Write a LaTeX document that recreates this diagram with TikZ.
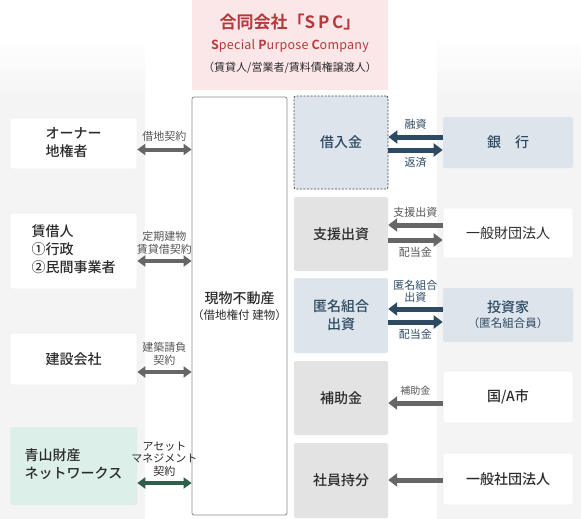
\documentclass[tikz,border=0pt]{standalone}
\usepackage{fontspec}
\setmainfont{Noto Sans CJK JP}[BoldFont={Noto Sans CJK JP Medium}]
\newfontfamily\jpheavy{Noto Sans CJK JP Bold}
\usetikzlibrary{arrows.meta,calc}
\definecolor{panel}{HTML}{F4F4F4}
\definecolor{pinkbg}{HTML}{FCE7E8}
\definecolor{spcred}{HTML}{B5383A}
\definecolor{bluebg}{HTML}{DDE4EC}
\definecolor{greybg}{HTML}{E3E3E3}
\definecolor{greenbg}{HTML}{DCEFE8}
\definecolor{navy}{HTML}{2D4A63}
\definecolor{arrgrey}{HTML}{666666}
\definecolor{arrgreen}{HTML}{2F5F4A}
\definecolor{txt}{HTML}{2B2B2B}
\definecolor{lbl}{HTML}{555555}
\begin{document}
\begin{tikzpicture}[x=1pt,y=-1pt,
  box/.style={rectangle, rounded corners=2pt, inner sep=0pt, align=center,
    font=\fontsize{14}{18}\selectfont\bfseries, text=txt},
  lbox/.style={box, fill=white, minimum width=127, draw=black!6, line width=0.6pt},
  mbox/.style={box, minimum width=94},
  rbox/.style={box, minimum width=130, draw=black!6, line width=0.6pt},
  lbl/.style={font=\fontsize{11}{12.5}\selectfont, text=lbl, align=center, inner sep=0pt},
  dbl/.style={line width=4pt, draw=arrgrey, {Triangle[length=8pt,width=11pt]}-{Triangle[length=8pt,width=11pt]}},
  rarr/.style={line width=5pt, -{Triangle[length=9pt,width=13pt]}}
]
\useasboundingbox (0,0) rectangle (581,519);
% panels
\shade[top color=white, bottom color=panel] (0,35) rectangle (145,100);
\fill[panel] (0,100) rectangle (145,519);
\shade[top color=white, bottom color=panel] (437,35) rectangle (581,100);
\fill[panel] (437,100) rectangle (581,519);

% SPC
\node[box, fill=pinkbg, minimum width=196, minimum height=90, rounded corners=0pt] (spc) at (290,45) {};
\node[inner sep=0pt, text=spcred, font=\fontsize{17}{20}\selectfont\jpheavy] (spct) at (290,22) {合同会社「S\,P\,C」};
\node[inner sep=0pt, text=spcred, font=\fontsize{12.5}{15}\selectfont\addfontfeatures{LetterSpace=2}] (spce) at (290,46) {{\jpheavy\addfontfeatures{LetterSpace=2}S}pecial {\jpheavy\addfontfeatures{LetterSpace=2}P}urpose {\jpheavy\addfontfeatures{LetterSpace=2}C}ompany};
\node[inner sep=0pt, text=txt, font=\fontsize{11}{13}\selectfont] (spcj) at (290,68) {（賃貸人/営業者/賃料債権譲渡人）};

% center
\node[box, draw=black!45, line width=0.8pt, fill=white, minimum width=95, minimum height=418] (gen) at (239.5,306)
  {現物不動産\\[-2pt]{\fontsize{11.5}{14}\selectfont\mdseries （借地権付 建物）}};

% left
\node[lbox, minimum height=51] (owner) at (73.5,143.5) {\begin{tabular}{@{}l@{}}オーナー\\地権者\end{tabular}};
\node[lbox, minimum height=76] (lessee) at (73.5,251) {\begin{tabular}{@{}l@{}}賃借人\\①行政\\②民間事業者\end{tabular}};
\node[lbox, minimum height=52] (builder) at (73.5,359) {建設会社};
\node[lbox, fill=greenbg, draw=none, minimum height=78] (aoyama) at (73.5,466) {\begin{tabular}{@{}l@{}}青山財産\\ネットワークス\end{tabular}};

% middle column
\node[mbox, fill=bluebg, draw=black!70, dashed, dash pattern=on 2pt off 1.5pt, line width=0.8pt, minimum height=93, text=navy] (kari) at (341,142.5) {借入金};
\node[mbox, fill=greybg, minimum height=74] (shien) at (341,234) {支援出資};
\node[mbox, fill=bluebg, minimum height=75, text=navy] (tokumei) at (341,315.5) {匿名組合\\出資};
\node[mbox, fill=greybg, minimum height=74] (hojo) at (341,398) {補助金};
\node[mbox, fill=greybg, minimum height=75] (shain) at (341,480.5) {社員持分};

% right
\node[rbox, fill=bluebg, draw=none, minimum height=51, text=navy] (bank) at (508,142.5) {銀　行};
\node[rbox, fill=white, minimum height=50, font=\fontsize{14}{18}\selectfont] (zaidan) at (508,233) {一般財団法人};
\node[rbox, fill=bluebg, draw=none, minimum height=54, text=navy] (inv) at (508,315) {投資家\\[-3pt]{\fontsize{11.5}{14}\selectfont\mdseries （匿名組合員）}};
\node[rbox, fill=white, minimum height=52] (kuni) at (508,397) {国/A市};
\node[rbox, fill=white, minimum height=52] (shadan) at (508,479) {一般社団法人};

% left arrows
\draw[dbl] ([yshift=-6pt]owner.east) -- node[lbl, above=6pt] {借地契約} ([yshift=-6pt]owner.east -| gen.west);
\draw[dbl] ([yshift=-10pt]lessee.east) -- node[lbl, above=5pt] {定期建物\\賃貸借契約} ([yshift=-10pt]lessee.east -| gen.west);
\draw[dbl] ([yshift=-13pt]builder.east) -- node[lbl, above=5pt] {建築請負\\契約} ([yshift=-13pt]builder.east -| gen.west);
\draw[dbl, draw=arrgreen] ([yshift=-17pt]aoyama.east) -- node[lbl, above=5pt, text=txt] {アセット\\マネジメント\\契約} ([yshift=-17pt]aoyama.east -| gen.west);

% right arrows
\draw[rarr, draw=navy] ([yshift=5.5pt]bank.west) -- node[lbl, above=5pt, text=navy] {融資} ([yshift=5.5pt]bank.west -| kari.east);
\draw[rarr, draw=navy] ([yshift=-7.5pt]kari.east) -- node[lbl, below=5pt, text=navy] {返済} ([yshift=-7.5pt]kari.east -| bank.west);

\draw[rarr, draw=arrgrey] ([yshift=8pt]zaidan.west) -- node[lbl, above=5pt] {支援出資} ([yshift=8pt]zaidan.west -| shien.east);
\draw[rarr, draw=arrgrey] ([yshift=-7pt]shien.east |- zaidan.west) -- node[lbl, below=5pt] {配当金} ([yshift=-7pt]zaidan.west);

\draw[rarr, draw=navy] ([yshift=6pt]inv.west) -- node[lbl, above=4pt, text=navy] {匿名組合\\出資} ([yshift=6pt]inv.west -| tokumei.east);
\draw[rarr, draw=navy] ([yshift=-7pt]tokumei.east |- inv.west) -- node[lbl, below=5pt, text=navy] {配当金} ([yshift=-7pt]inv.west);

\draw[rarr, draw=arrgrey] ([yshift=-6pt]kuni.west) -- node[lbl, above=5pt, font=\fontsize{10}{11}\selectfont] {補助金} ([yshift=-6pt]kuni.west -| hojo.east);
\draw[rarr, draw=arrgrey] ([yshift=-1pt]shadan.west) -- ([yshift=-1pt]shadan.west -| shain.east);
\end{tikzpicture}
\end{document}
